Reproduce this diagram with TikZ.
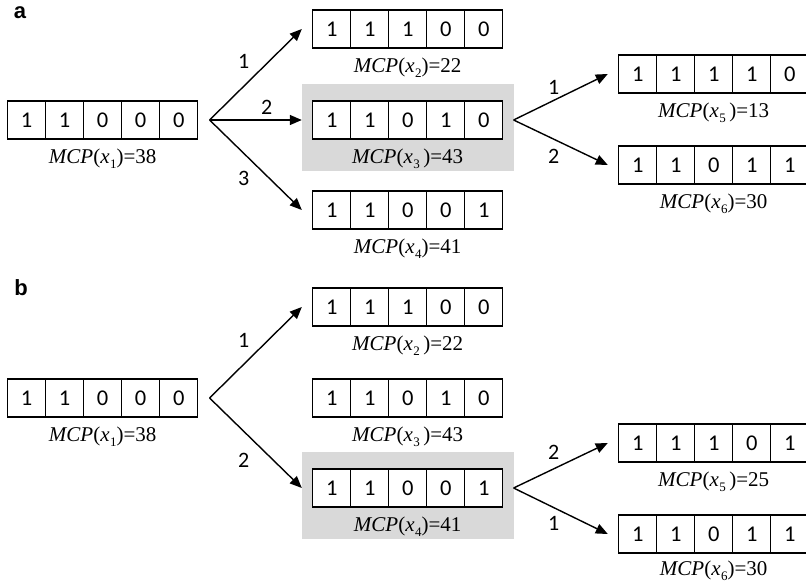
\documentclass[tikz,border=0pt]{standalone}
\usepackage{fontspec}
\setmainfont{Liberation Serif}
\newfontfamily\digitfont{Carlito}
\newfontfamily\panelfont{Liberation Sans}
\usetikzlibrary{calc,arrows.meta,backgrounds,fit}
\definecolor{hlgray}{RGB}{217,217,217}

\tikzset{
  cell/.style={draw, fill=white, line width=1.4pt, minimum width=38pt, minimum height=38pt,
    inner sep=0pt, font=\digitfont\fontsize{22.5pt}{26pt}\selectfont},
  lab/.style={anchor=base, inner sep=0pt, font=\fontsize{21pt}{25pt}\selectfont},
  brl/.style={inner sep=0pt, font=\digitfont\fontsize{22pt}{26pt}\selectfont},
  arr/.style={line width=1.4pt, -{Triangle[length=12pt,width=10pt]}},
  hl/.style={fill=hlgray, draw=none},
  panel/.style={inner sep=0pt, font=\panelfont\bfseries\fontsize{22pt}{26pt}\selectfont}
}

% a five-cell bit register: name, west-centre point, digits
\newcommand{\register}[3]{%
  \foreach \d [count=\i] in {#3} {
    \node[cell, anchor=west] (#1-\i) at ($(#2)+({(\i-1)*38},0)$) {\d};
  }
  \node[fit=(#1-1)(#1-5), inner sep=0pt] (#1) {};
}
% value label below a register
\newcommand{\subidx}[1]{\raisebox{-4.5pt}{\fontsize{13pt}{13pt}\selectfont #1}}
\newcommand{\mcp}[3]{\textit{MCP}(\textit{x}\kern0.5pt\subidx{#1}#2)=#3}

\begin{document}
\begin{tikzpicture}[x=1pt, y=-1pt]
\useasboundingbox (0,0) rectangle (806,585);

% ---------- panel a ----------
\node[panel] (pa) at (20,13) {a};
\register{a1}{7,120}{1,1,0,0,0}
\register{a2}{312,29}{1,1,1,0,0}
\register{a3}{312,120}{1,1,0,1,0}
\register{a4}{312,210}{1,1,0,0,1}
\register{a5}{618,74}{1,1,1,1,0}
\register{a6}{618,165}{1,1,0,1,1}

\node[lab] (a1l) at ($(a1.south)+(0,24)$) {\mcp{1}{}{38}};
\node[lab] (a2l) at ($(a2.south)+(0,24)$) {\mcp{2}{}{22}};
\node[lab] (a3l) at ($(a3.south)+(0,24)$) {\mcp{3}{\,}{43}};
\node[lab] (a4l) at ($(a4.south)+(0,24)$) {\mcp{4}{}{41}};
\node[lab] (a5l) at ($(a5.south)+(0,24)$) {\mcp{5}{\,}{13}};
\node[lab] (a6l) at ($(a6.south)+(0,24)$) {\mcp{6}{}{30}};

\begin{scope}[on background layer]
  \fill[hl] ($(a3.north west)+(-10,-16)$) rectangle ($(a3.south east)+(10,31)$);
\end{scope}

\coordinate (a1o) at ($(a1.east)+(11,0)$);
\coordinate (a2i) at ($(a2.west)+(-10,0)$);
\coordinate (a3i) at ($(a3.west)+(-10,0)$);
\coordinate (a4i) at ($(a4.west)+(-10,0)$);
\coordinate (a3o) at ($(a3.east)+(10,0)$);
\coordinate (a5i) at ($(a5.west)+(-10,0)$);
\coordinate (a6i) at ($(a6.west)+(-10,0)$);

\draw[arr] (a1o) -- (a2i) node[brl, pos=0.5, shift={(-12,-13)}] {1};
\draw[arr] (a1o) -- (a3i) node[brl, pos=0.5, shift={(11,-13)}] {2};
\draw[arr] (a1o) -- (a4i) node[brl, pos=0.5, shift={(-12,13)}] {3};
\draw[arr] (a3o) -- (a5i) node[brl, pos=0.5, shift={(-7,-10)}] {1};
\draw[arr] (a3o) -- (a6i) node[brl, pos=0.5, shift={(-7,14)}] {2};

% ---------- panel b ----------
\node[panel] (pb) at (21,288) {b};
\register{b1}{7,398}{1,1,0,0,0}
\register{b2}{312,307}{1,1,1,0,0}
\register{b3}{312,398}{1,1,0,1,0}
\register{b4}{312,488}{1,1,0,0,1}
\register{b5}{618,443}{1,1,1,0,1}
\register{b6}{618,534}{1,1,0,1,1}

\node[lab] (b1l) at ($(b1.south)+(0,24)$) {\mcp{1}{}{38}};
\node[lab] (b2l) at ($(b2.south)+(0,24)$) {\mcp{2}{\,}{22}};
\node[lab] (b3l) at ($(b3.south)+(0,24)$) {\mcp{3}{\,}{43}};
\node[lab] (b4l) at ($(b4.south)+(0,24)$) {\mcp{4}{}{41}};
\node[lab] (b5l) at ($(b5.south)+(0,24)$) {\mcp{5}{\,}{25}};
\node[lab] (b6l) at ($(b6.south)+(0,22)$) {\mcp{6}{}{30}};

\begin{scope}[on background layer]
  \fill[hl] ($(b4.north west)+(-10,-16)$) rectangle ($(b4.south east)+(10,31)$);
\end{scope}

\coordinate (b1o) at ($(b1.east)+(11,0)$);
\coordinate (b2i) at ($(b2.west)+(-10,0)$);
\coordinate (b4i) at ($(b4.west)+(-10,0)$);
\coordinate (b4o) at ($(b4.east)+(10,0)$);
\coordinate (b5i) at ($(b5.west)+(-10,0)$);
\coordinate (b6i) at ($(b6.west)+(-10,0)$);

\draw[arr] (b1o) -- (b2i) node[brl, pos=0.5, shift={(-12,-12)}] {1};
\draw[arr] (b1o) -- (b4i) node[brl, pos=0.5, shift={(-12,17)}] {2};
\draw[arr] (b4o) -- (b5i) node[brl, pos=0.5, shift={(-7,-13)}] {2};
\draw[arr] (b4o) -- (b6i) node[brl, pos=0.5, shift={(-7,12)}] {1};
\end{tikzpicture}
\end{document}
